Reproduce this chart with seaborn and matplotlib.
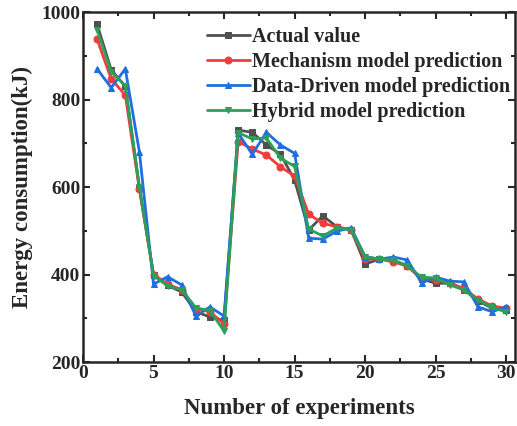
import matplotlib
matplotlib.use("Agg")
import matplotlib.pyplot as plt
import seaborn as sns
import pandas as pd
from matplotlib.ticker import MultipleLocator
from matplotlib.font_manager import FontProperties

experiments = list(range(1, 31))
actual = [972, 868, 830, 598, 400, 375, 360, 315, 303, 295,
          730, 725, 696, 675, 616, 502, 534, 509, 502, 424,
          435, 433, 420, 390, 380, 380, 365, 340, 323, 318]
mechanism = [938, 847, 810, 595, 400, 378, 365, 322, 315, 287,
             704, 687, 673, 646, 625, 538, 517, 509, 502, 435,
             435, 429, 419, 390, 388, 381, 368, 344, 328, 323]
data_driven = [870, 827, 870, 680, 378, 395, 376, 305, 326, 305,
               723, 675, 725, 696, 677, 483, 481, 499, 507, 441,
               435, 440, 433, 381, 394, 385, 383, 326, 315, 326]
hybrid = [959, 864, 831, 600, 397, 374, 365, 324, 317, 271,
          724, 710, 712, 666, 647, 504, 488, 506, 502, 441,
          435, 433, 419, 394, 392, 376, 365, 342, 325, 314]

labels = ["Actual value", "Mechanism model prediction",
          "Data-Driven model prediction", "Hybrid model prediction"]
series = [actual, mechanism, data_driven, hybrid]
colors = ["#505050", "#F03C3C", "#1F6FE0", "#2CA05A"]
markers = ["s", "o", "^", "v"]

sns.set_style("ticks")
plt.rcParams['font.family'] = ['Liberation Serif', 'DejaVu Serif']
plt.rcParams['font.weight'] = 'bold'

fig = plt.figure(figsize=(5.17, 4.26), dpi=100)
ax = fig.add_axes([0.1605, 0.1502, 0.835, 0.8216])

for lab, vals, c, m in zip(labels, series, colors, markers):
    df = pd.DataFrame({"x": experiments, "y": vals})
    sns.lineplot(data=df, x="x", y="y", ax=ax, color=c, marker=m,
                 markersize=5, markeredgecolor=c, linewidth=2, label=lab)

ax.set_xlim(0, 30.6)
ax.set_ylim(200, 1000)
ax.xaxis.set_major_locator(MultipleLocator(5))
ax.xaxis.set_minor_locator(MultipleLocator(2.5))
ax.yaxis.set_major_locator(MultipleLocator(200))
ax.yaxis.set_minor_locator(MultipleLocator(100))
ax.tick_params(which='both', direction='in', top=True, right=True, width=1.5)
ax.tick_params(which='major', length=5, labelsize=14, pad=2)
ax.tick_params(which='minor', length=3)
for lbl in ax.get_xticklabels() + ax.get_yticklabels():
    lbl.set_fontweight('bold')
for s in ax.spines.values():
    s.set_linewidth(1.8)
    s.set_visible(True)

ax.set_xlabel("Number of experiments", fontsize=16.5, fontweight='bold', labelpad=12)
ax.set_ylabel("Energy consumption(kJ)", fontsize=16.5, fontweight='bold', labelpad=6)

legfont = FontProperties(family='Liberation Serif', weight='bold', size=14.5)
leg = ax.legend(loc='upper left', bbox_to_anchor=(0.268, 0.98), frameon=False,
                prop=legfont, handlelength=2.15,
                handletextpad=0.1, labelspacing=0.25, borderaxespad=0)

fig.savefig("out.png", dpi=100)
